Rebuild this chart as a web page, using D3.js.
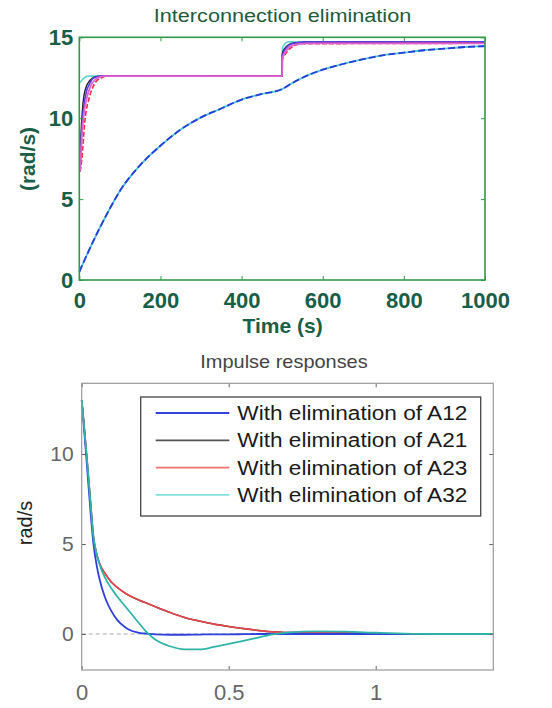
<!DOCTYPE html>
<html>
<head>
<meta charset="utf-8">
<script src="https://cdn.jsdelivr.net/npm/d3@7"></script>
<style>
  body { margin: 0; background: #fff; }
  svg { display: block; font-family: "Liberation Sans", Arial, sans-serif; }
</style>
</head>
<body>
<script>
// ---- top panel : speed after interconnection elimination (rad/s vs s)
var slowT = [0, 25, 50, 75, 100, 150, 200, 250, 300, 350, 400, 450, 500, 520, 550, 600, 650, 700, 750, 800, 850, 900, 950, 1000];
var slowV = [0.5, 1.9, 3.2, 4.4, 5.5, 7.1, 8.3, 9.3, 10.05, 10.6, 11.15, 11.5, 11.8, 12.1, 12.5, 13.0, 13.35, 13.65, 13.9, 14.05, 14.2, 14.3, 14.4, 14.45];

var cyanT = [1, 5, 10, 15, 22, 500, 500.5, 504, 509, 516, 1000];
var cyanV = [12.2, 12.3, 12.45, 12.55, 12.6, 12.6, 14.3, 14.5, 14.65, 14.72, 14.72];

var blackT = [2, 4, 8, 15, 25, 38, 50, 500, 500.5, 506, 514, 529, 1000];
var blackV = [6.9, 8.8, 10.6, 11.8, 12.3, 12.55, 12.6, 12.6, 14.0, 14.3, 14.5, 14.65, 14.68];

var blueT = [2, 5, 10, 18, 25, 33, 45, 55, 500, 500.5, 506, 514, 524, 539, 554, 1000];
var blueV = [6.8, 9.0, 10.5, 11.7, 12.1, 12.45, 12.57, 12.6, 12.6, 13.9, 14.2, 14.45, 14.6, 14.68, 14.72, 14.72];

var redT = [2, 6, 14, 25, 41, 55, 67, 500, 500.5, 509, 519, 532, 546, 1000];
var redV = [6.7, 7.4, 9.9, 11.3, 12.25, 12.5, 12.6, 12.6, 13.6, 14.0, 14.3, 14.5, 14.6, 14.63];

var magT = [2, 5, 10, 18, 28, 40, 52, 62, 500, 500.5, 507, 516, 529, 544, 559, 1000];
var magV = [6.7, 8.3, 10.0, 11.2, 12.0, 12.4, 12.55, 12.6, 12.6, 13.7, 14.05, 14.35, 14.52, 14.6, 14.63, 14.63];

var topXTicks = [0, 200, 400, 600, 800, 1000];
var topYTicks = [0, 5, 10, 15];

// ---- bottom panel : impulse responses
var impT   = [0, 0.01, 0.02, 0.03, 0.04, 0.05, 0.06, 0.08, 0.1, 0.12, 0.15, 0.2, 0.22, 0.25, 0.3, 0.35, 0.4, 0.45, 0.5, 0.55, 0.6, 0.65, 0.7, 0.8, 0.9, 1.0, 1.1, 1.2, 1.3, 1.4];
var impA12 = [13, 11.0, 8.9, 6.8, 5.0, 3.9, 3.1, 2.0, 1.3, 0.8, 0.35, 0.05, 0.02, -0.02, -0.04, -0.04, -0.03, -0.02, -0.02, -0.01, 0, 0, 0, 0, 0, 0, 0, 0, 0, 0];
var impA21 = [13, 11.2, 9.3, 7.3, 5.4, 4.5, 3.95, 3.35, 2.9, 2.6, 2.25, 1.85, 1.72, 1.52, 1.2, 0.92, 0.72, 0.55, 0.42, 0.3, 0.2, 0.12, 0.08, 0.08, 0.06, 0.02, 0, 0, 0, 0];
var impA23 = [13, 11.2, 9.3, 7.3, 5.4, 4.5, 3.95, 3.35, 2.9, 2.6, 2.25, 1.85, 1.72, 1.52, 1.2, 0.92, 0.72, 0.55, 0.42, 0.3, 0.2, 0.12, 0.08, 0.08, 0.06, 0.02, 0, 0, 0, 0];
var impA32 = [13, 11.2, 9.3, 7.3, 5.4, 4.5, 3.9, 3.1, 2.55, 2.1, 1.5, 0.5, 0.12, -0.3, -0.68, -0.85, -0.85, -0.72, -0.55, -0.38, -0.2, -0.02, 0.08, 0.15, 0.13, 0.07, 0.02, 0, 0, 0];

var legendLabels = ["With elimination of A12", "With elimination of A21", "With elimination of A23", "With elimination of A32"];
var legendColors = ["#3441e0", "#555555", "#f27272", "#80e0d8"];
var botXTicks = [0, 0.5, 1];
var botYTicks = [0, 5, 10];

var W = 552, H = 708;
var svg = d3.select("body").append("svg").attr("width", W).attr("height", H);

function label(x, y, s, size, sx, color, weight, rot) {
  var tr = "translate(" + x + "," + y + ")" + (rot ? " rotate(" + rot + ")" : "") + " scale(" + sx + ",1)";
  return svg.append("text").attr("transform", tr).attr("text-anchor", "middle")
    .attr("font-size", size).attr("fill", color).attr("font-weight", weight || "normal").text(s);
}

function pairs(t, v) { return t.map(function(d, i) { return [d, v[i]]; }); }

// ================= top panel
var xT = d3.scaleLinear().domain([0, 1000]).range([79.3, 485]);
var yT = d3.scaleLinear().domain([0, 15]).range([280, 37.3]);
var green = "#33994a", tgreen = "#1a5e48";

var topG = svg.append("g");
var lineT = d3.line().x(function(d) { return xT(d[0]); }).y(function(d) { return yT(d[1]); }).curve(d3.curveMonotoneX);

function addTop(t, v, color, w, dash) {
  topG.append("path").datum(pairs(t, v)).attr("d", lineT).attr("fill", "none")
    .attr("stroke", color).attr("stroke-width", w).attr("stroke-dasharray", dash || null);
}
addTop(slowT, slowV, "#48c8d8", 1.8);
addTop(slowT, slowV, "#2a3ad4", 1.8, "7,3");
addTop(cyanT, cyanV, "#5fd6d0", 1.6);
addTop(blackT, blackV, "#222", 1.4);
addTop(blueT, blueV, "#5a3ce0", 1.6);
addTop(redT, redV, "#e8304a", 1.6, "5,2");
addTop(magT, magV, "#e060d6", 1.8);

topG.append("g").attr("transform", "translate(0,280)")
  .call(d3.axisBottom(xT).tickValues(topXTicks).tickSize(-4).tickPadding(12).tickFormat(d3.format("d")))
  .call(function(g) {
    g.select(".domain").remove();
    g.selectAll("line").attr("stroke", green);
    g.selectAll("text").attr("font-size", 22).attr("fill", tgreen).attr("font-weight", "bold").attr("font-family", "Liberation Sans");
  });
topG.append("g").attr("transform", "translate(0,37.3)")
  .call(d3.axisTop(xT).tickValues(topXTicks).tickSize(-4).tickFormat(""))
  .call(function(g) { g.select(".domain").remove(); g.selectAll("line").attr("stroke", green); });
topG.append("g").attr("transform", "translate(79.3,0)")
  .call(d3.axisLeft(yT).tickValues(topYTicks).tickSize(-4).tickPadding(6))
  .call(function(g) {
    g.select(".domain").remove();
    g.selectAll("line").attr("stroke", green);
    g.selectAll("text").attr("font-size", 22).attr("fill", tgreen).attr("font-weight", "bold").attr("font-family", "Liberation Sans");
  });
topG.append("g").attr("transform", "translate(485,0)")
  .call(d3.axisRight(yT).tickValues(topYTicks).tickSize(-4).tickFormat(""))
  .call(function(g) { g.select(".domain").remove(); g.selectAll("line").attr("stroke", green); });

topG.append("rect").attr("x", 79.3).attr("y", 37.3).attr("width", 405.7).attr("height", 242.7)
  .attr("fill", "none").attr("stroke", green).attr("stroke-width", 1.6);

label(282.5, 22, "Interconnection elimination", 19, 1.14, "#1f5a3c", "normal");
label(282.6, 333, "Time (s)", 21, 1.0, tgreen, "bold");
label(35, 159, "(rad/s)", 21, 1.0, tgreen, "bold", -90);

// ================= bottom panel
var xB = d3.scaleLinear().domain([0, 1.4]).range([81.7, 493.3]);
var yB = d3.scaleLinear().domain([-2, 13.93]).range([670, 383.3]);
var gray = "#9a9a9a";
var bot = svg.append("g");
var lineB = d3.line().x(function(d) { return xB(d[0]); }).y(function(d) { return yB(d[1]); }).curve(d3.curveMonotoneX);

bot.append("line").attr("x1", xB(0)).attr("x2", xB(1.4)).attr("y1", yB(0)).attr("y2", yB(0))
  .attr("stroke", "#aaa").attr("stroke-width", 1).attr("stroke-dasharray", "4,3");

function addBot(v, color, w, op) {
  bot.append("path").datum(pairs(impT, v)).attr("d", lineB).attr("fill", "none")
    .attr("stroke", color).attr("stroke-width", w).attr("stroke-opacity", op || 1);
}
addBot(impA21, "#333", 1.5);
addBot(impA23, "#e8454a", 1.6);
addBot(impA12, "#2f3fdc", 1.8);
addBot(impA32, "#2fb4a6", 1.8);

bot.append("g").attr("transform", "translate(0,670)")
  .call(d3.axisBottom(xB).tickValues(botXTicks).tickSize(-4).tickPadding(14).tickFormat(d3.format("")))
  .call(function(g) {
    g.select(".domain").remove();
    g.selectAll("line").attr("stroke", "#666");
    g.selectAll("text").attr("font-size", 22).attr("fill", "#666").attr("font-family", "Liberation Sans");
  });
bot.append("g").attr("transform", "translate(0,383.3)")
  .call(d3.axisTop(xB).tickValues(botXTicks).tickSize(-4).tickFormat(""))
  .call(function(g) { g.select(".domain").remove(); g.selectAll("line").attr("stroke", "#666"); });
bot.append("g").attr("transform", "translate(81.7,0)")
  .call(d3.axisLeft(yB).tickValues(botYTicks).tickSize(-4).tickPadding(8))
  .call(function(g) {
    g.select(".domain").remove();
    g.selectAll("line").attr("stroke", "#555");
    g.selectAll("text").attr("font-size", 21).attr("fill", "#666").attr("font-family", "Liberation Sans");
  });
bot.append("g").attr("transform", "translate(493.3,0)")
  .call(d3.axisRight(yB).tickValues(botYTicks).tickSize(-4).tickFormat(""))
  .call(function(g) { g.select(".domain").remove(); g.selectAll("line").attr("stroke", "#666"); });

bot.append("rect").attr("x", 81.7).attr("y", 383.3).attr("width", 411.6).attr("height", 286.7)
  .attr("fill", "none").attr("stroke", gray).attr("stroke-width", 1.2);

// legend
bot.append("rect").attr("x", 140.7).attr("y", 397).attr("width", 340).attr("height", 119)
  .attr("fill", "#fff").attr("stroke", "#444").attr("stroke-width", 1.3);
legendLabels.forEach(function(s, i) {
  var cy = 413 + i * 27.3;
  bot.append("line").attr("x1", 155.7).attr("x2", 229.3).attr("y1", cy).attr("y2", cy)
    .attr("stroke", legendColors[i]).attr("stroke-width", i === 0 ? 2.2 : 1.8);
  svg.append("text").attr("transform", "translate(237.3," + (cy + 7) + ") scale(1.16,1)")
    .attr("font-size", 19.5).attr("fill", "#1a1a1a").text(s);
});

label(284, 368, "Impulse responses", 19, 1.05, "#444", "normal");
label(32, 523, "rad/s", 20, 1.0, "#222", "normal", -90);
</script>
</body>
</html>
